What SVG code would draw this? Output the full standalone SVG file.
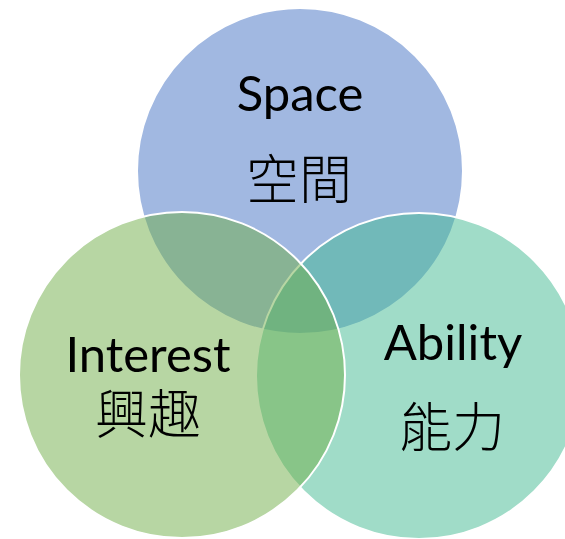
<svg xmlns="http://www.w3.org/2000/svg" width="565" height="539" viewBox="0 0 565 539">
<style>
.c{stroke:#fff;stroke-width:2;fill-opacity:0.5}
.en{font-family:Lato,"Open Sans","Liberation Sans",sans-serif;font-size:49px;fill:#000;text-anchor:middle}
.zh{font-family:"Noto Sans CJK TC","Noto Sans CJK SC",sans-serif;font-size:53px;fill:#000;text-anchor:middle;font-weight:300}
</style>
<rect width="565" height="539" fill="#fff"/>
<g id="space"><circle class="c" cx="300" cy="171" r="163" fill="#4472C4"/></g>
<g id="ability"><circle class="c" cx="419" cy="376" r="163" fill="#41B991"/></g>
<g id="interest"><circle class="c" cx="182" cy="375" r="163" fill="#70AD47"/></g>
<g id="labels">
<text class="en" x="300" y="111">Space</text>
<text class="zh" x="299" y="199">空間</text>
<text class="en" x="148" y="372">Interest</text>
<text class="zh" x="148" y="434">興趣</text>
<text class="en" x="453" y="360">Ability</text>
<text class="zh" x="452" y="447">能力</text>
</g>
<g id="connectors"/>
</svg>
